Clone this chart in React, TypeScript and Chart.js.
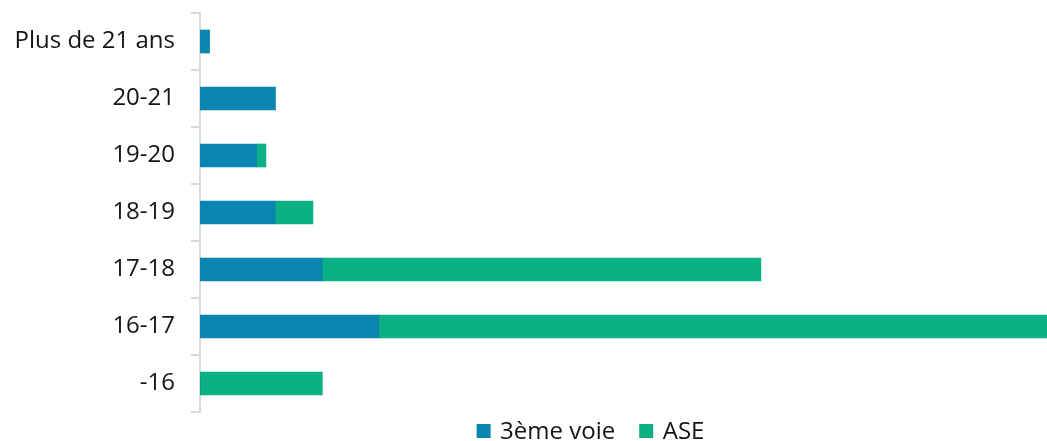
import React, { useEffect, useRef } from "react";
import { Chart, registerables } from "chart.js";

Chart.register(...registerables);

const categories = ["Plus de 21 ans", "20-21", "19-20", "18-19", "17-18", "16-17", "-16"];
const troisiemeVoie = [1, 8, 6, 8, 13, 19, 0];
const ase = [0, 0, 1, 4, 46.6, 71, 13];
const seriesNames = ["3ème voie", "ASE"];
const xMax = 90;

const FONT = "'Open Sans', sans-serif";
const TEXT_COLOR = "#141414";
const BLUE = "#0a84b0";
const GREEN = "#0bb084";
const AXIS_COLOR = "#d9d9d9";

const TICK_FONT_SIZE = 24;
const LEGEND_FONT_SIZE = 24;
const LEGEND_BOX = 14;
const LEGEND_BOX_GAP = 9.5;
const LEGEND_ITEM_GAP = 24;
const LEGEND_CENTER_X = 590.5;
const LEGEND_Y = 431;

const legendPlugin = {
  id: "customLegend",
  afterDraw(chart: any) {
    const ctx = chart.ctx;
    ctx.save();
    ctx.font = `${LEGEND_FONT_SIZE}px ${FONT}`;
    ctx.textBaseline = "middle";
    ctx.textAlign = "left";
    const items = chart.data.datasets.map((ds: any) => ({
      text: ds.label as string,
      color: ds.backgroundColor as string,
      w: ctx.measureText(ds.label).width as number,
    }));
    const total =
      items.reduce((s: number, it: any) => s + LEGEND_BOX + LEGEND_BOX_GAP + it.w, 0) +
      LEGEND_ITEM_GAP * (items.length - 1);
    let x = LEGEND_CENTER_X - total / 2;
    items.forEach((it: any) => {
      ctx.fillStyle = it.color;
      ctx.fillRect(x, LEGEND_Y - LEGEND_BOX / 2, LEGEND_BOX, LEGEND_BOX);
      x += LEGEND_BOX + LEGEND_BOX_GAP;
      ctx.fillStyle = TEXT_COLOR;
      ctx.fillText(it.text, x, LEGEND_Y + 1);
      x += it.w + LEGEND_ITEM_GAP;
    });
    ctx.restore();
  },
};

export default function App() {
  const canvasRef = useRef<HTMLCanvasElement | null>(null);

  useEffect(() => {
    if (!canvasRef.current) return;
    const chart = new Chart(canvasRef.current, {
      type: "bar",
      data: {
        labels: categories,
        datasets: [
          {
            label: seriesNames[0],
            data: troisiemeVoie,
            backgroundColor: BLUE,
            borderWidth: 0,
            barThickness: 23,
          },
          {
            label: seriesNames[1],
            data: ase,
            backgroundColor: GREEN,
            borderWidth: 0,
            barThickness: 23,
          },
        ],
      },
      options: {
        indexAxis: "y",
        animation: false,
        responsive: true,
        maintainAspectRatio: false,
        layout: { padding: { top: 13, bottom: 29, left: 0, right: 0 } },
        plugins: {
          legend: { display: false },
          tooltip: { enabled: false },
        },
        scales: {
          x: {
            stacked: true,
            display: false,
            min: 0,
            max: xMax,
          },
          y: {
            stacked: true,
            afterFit: (scale: any) => {
              scale.width = 200;
              scale.paddingTop = 0;
              scale.paddingBottom = 0;
            },
            grid: {
              display: true,
              drawOnChartArea: false,
              drawTicks: true,
              tickLength: 9,
              color: AXIS_COLOR,
              lineWidth: 2,
              offset: true,
            },
            border: { display: true, color: AXIS_COLOR, width: 2 },
            ticks: {
              padding: 16,
              color: TEXT_COLOR,
              font: { family: FONT, size: TICK_FONT_SIZE },
            },
          },
        },
      },
      plugins: [legendPlugin],
    });
    return () => chart.destroy();
  }, []);

  return (
    <div style={{ position: "absolute", left: 0, top: 0, width: 1047, height: 441 }}>
      <canvas ref={canvasRef} />
    </div>
  );
}
